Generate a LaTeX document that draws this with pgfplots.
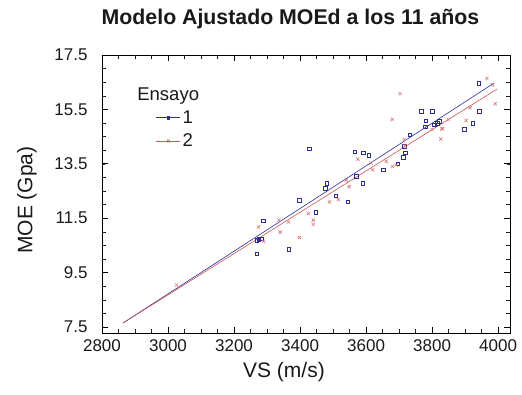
\documentclass[border=0pt]{standalone}
\usepackage{pgfplots}
\pgfplotsset{compat=1.18}
\usepackage{fontspec}
\setmainfont{Liberation Sans}
\definecolor{myblue}{RGB}{45,45,150}
\definecolor{myred}{RGB}{205,85,85}
\definecolor{txt}{RGB}{25,25,25}
\begin{document}
\begin{tikzpicture}
\path (-102pt,-61pt) rectangle (420pt,333pt);
\begin{axis}[
 at={(0,0)}, anchor=south west,
 scale only axis, width=408pt, height=278pt,
 xmin=2800, xmax=4036, ymin=7.28, ymax=17.5,
 xtick={2800,3000,3200,3400,3600,3800,4000},
 ytick={7.5,9.5,11.5,13.5,15.5,17.5},
 minor x tick num=3, minor y tick num=3,
 major tick length=6pt, minor tick length=4pt,
 every major tick/.append style={draw=black, line width=0.8pt},
 every minor tick/.append style={draw=black, line width=0.6pt},
 /pgf/number format/assume math mode=true,
 tick label style={font=\fontsize{17}{20}\selectfont, color=txt},
 x tick label style={/pgf/number format/1000 sep={}, yshift=-3pt},
 y tick label style={/pgf/number format/fixed, /pgf/number format/precision=1, /pgf/number format/fixed zerofill, xshift=-11pt},
 xlabel={VS (m/s)},
 ylabel={MOE (Gpa)},
 xlabel style={at={(axis description cs:0.446,-0.140)}, anchor=center, font=\fontsize{21}{24}\selectfont, text=txt},
 ylabel style={at={(axis description cs:-0.184,0.478)}, anchor=center, rotate=0, font=\fontsize{21}{24}\selectfont, text=txt},
 title={\textbf{Modelo Ajustado MOEd a los 11 años}},
 title style={at={(axis description cs:0.462,1)}, anchor=center, yshift=30pt, font=\fontsize{21.3}{24}\selectfont, text=txt},
 legend style={at={(axis description cs:0.125,0.815)}, anchor=north west, draw=none, fill=none, font=\fontsize{18.5}{21}\selectfont, text=txt, row sep=5pt},
 legend cell align=left,
 legend image code/.code={\draw[mark repeat=2,mark phase=2] plot coordinates {(0cm,0cm)(0.42cm,0cm)(0.84cm,0cm)};},
]
\addlegendimage{myblue, line width=0.6pt, mark=square*, mark size=1.3pt}
\addlegendentry{1}
\addlegendimage{myred, line width=0.6pt, mark=x, mark size=2pt}
\addlegendentry{2}

\pgfplotsinvokeforeach{2800,2850,...,4000}{
 \draw[black!85, line width=0.5pt] (axis cs:#1,7.28) -- ([yshift=3.5pt]axis cs:#1,7.28);
 \draw[black!85, line width=0.5pt] (axis cs:#1,17.5) -- ([yshift=-3.5pt]axis cs:#1,17.5);
}
\pgfplotsinvokeforeach{2800,3000,...,4000}{
 \draw[black, line width=0.7pt] (axis cs:#1,7.28) -- ([yshift=5.5pt]axis cs:#1,7.28);
 \draw[black, line width=0.7pt] (axis cs:#1,17.5) -- ([yshift=-5.5pt]axis cs:#1,17.5);
}
\pgfplotsinvokeforeach{7.5,8,...,17.5}{
 \draw[black!85, line width=0.5pt] (axis cs:2800,#1) -- ([xshift=3.5pt]axis cs:2800,#1);
 \draw[black!85, line width=0.5pt] (axis cs:4036,#1) -- ([xshift=-3.5pt]axis cs:4036,#1);
}
\pgfplotsinvokeforeach{7.5,9.5,...,17.5}{
 \draw[black, line width=0.7pt] (axis cs:2800,#1) -- ([xshift=5.5pt]axis cs:2800,#1);
 \draw[black, line width=0.7pt] (axis cs:4036,#1) -- ([xshift=-5.5pt]axis cs:4036,#1);
}

\addplot[only marks, mark=square, mark size=1.8pt, myblue, line width=0.6pt, forget plot] coordinates {
(3428,14.05) (3269,10.19) (3289,11.40) (3269,10.69) (3275,10.72) (3282,10.75)
(3398,12.16) (3366,10.36) (3448,11.71) (3481,12.79) (3477,12.60) (3508,12.33)
(3545,12.10) (3566,13.94) (3592,13.90) (3608,13.82) (3570,13.03) (3590,12.79)
(3652,13.28) (3696,13.50) (3713,13.75) (3718,13.90) (3716,14.14) (3733,14.57)
(3767,15.44) (3800,15.44) (3781,15.08) (3780,14.86) (3806,14.93) (3822,15.07)
(3815,14.98) (3898,14.76) (3923,15.00) (3943,15.44) (3942,16.46)
};
\addplot[only marks, mark=x, mark size=2.3pt, myred!80, line width=0.6pt, forget plot] coordinates {
(3026,9.04) (3274,11.18) (3289,10.65) (3336,11.43) (3340,10.99) (3365,11.36)
(3398,10.79) (3425,11.67) (3440,11.43) (3440,11.27) (3489,12.10) (3516,12.19)
(3549,12.66) (3540,12.90) (3575,13.67) (3615,13.53) (3620,13.28) (3661,13.59)
(3679,15.13) (3703,16.08) (3691,13.46) (3680,13.40) (3718,14.17) (3716,14.40)
(3800,14.76) (3829,14.78) (3832,14.80) (3826,14.41) (3849,15.13) (3915,15.56)
(3903,15.09) (3966,16.64) (3991,15.71) (3983,16.40)
};
\addplot[myblue, line width=0.6pt, forget plot] coordinates {(2864,7.65) (3988,16.47)};
\addplot[myred, line width=0.6pt, forget plot] coordinates {(2864,7.65) (3997,16.25)};
\node[anchor=west, font=\fontsize{18.5}{21}\selectfont, text=txt] at (axis description cs:0.078,0.853) {Ensayo};
\end{axis}
\end{tikzpicture}
\end{document}
